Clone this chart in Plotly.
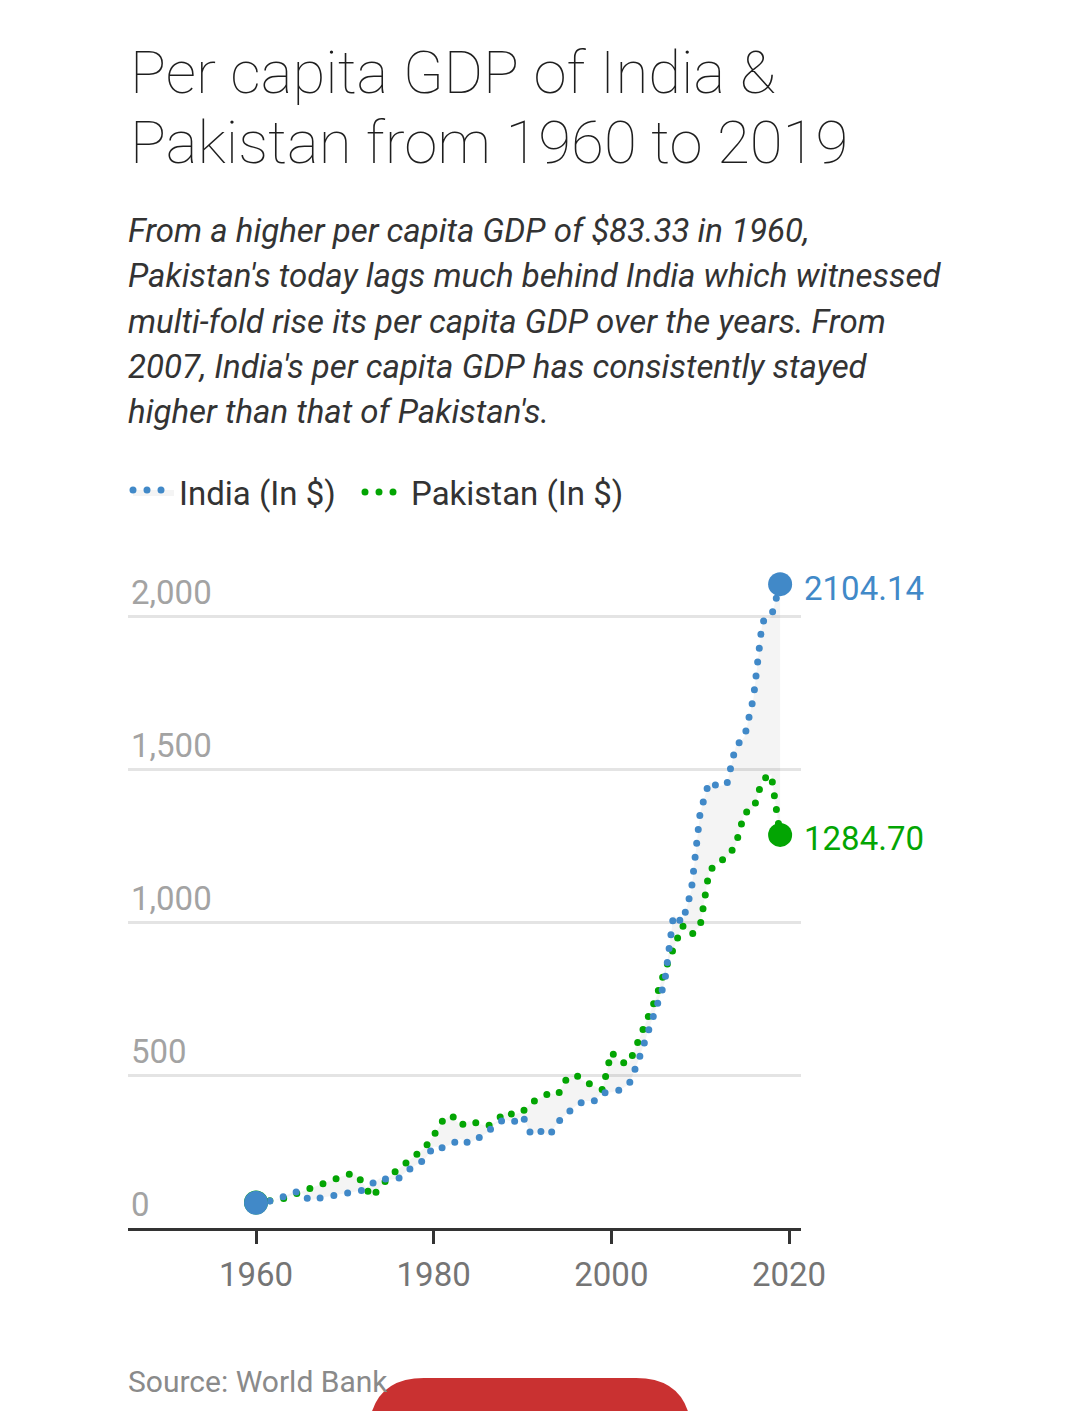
import plotly.graph_objects as go

# ---------------- data ----------------
years = list(range(1960, 2020))

india = [82.2, 85.4, 89.9, 101.1, 115.5, 119.3, 90.0, 96.6, 99.5, 107.6,
         112.4, 118.6, 123.0, 143.8, 163.2, 158.0, 161.1, 186.4, 205.7, 224.0,
         266.6, 262.0, 274.1, 291.2, 276.7, 296.4, 310.5, 340.4, 354.2, 346.1,
         367.6, 303.1, 316.9, 301.2, 346.2, 373.8, 399.6, 415.5, 413.3, 441.9,
         443.3, 451.6, 470.0, 543.2, 624.1, 710.5, 802.0, 1022.6, 998.5, 1102.0,
         1357.6, 1458.1, 1443.9, 1449.6, 1573.9, 1605.6, 1732.6, 1981.3, 1996.9, 2104.14]

pakistan = [83.33, 87.0, 92.0, 95.0, 106.0, 117.0, 132.0, 145.0, 152.0, 165.0,
            172.0, 180.0, 150.0, 100.0, 135.0, 168.0, 192.0, 214.0, 240.0, 262.0,
            302.0, 350.0, 370.0, 335.0, 350.0, 340.0, 333.0, 346.0, 380.0, 370.0,
            380.0, 410.0, 428.0, 440.0, 436.0, 490.0, 500.0, 478.0, 465.0, 452.0,
            575.0, 542.0, 538.0, 605.0, 675.0, 750.0, 840.0, 912.0, 988.0, 958.0,
            987.0, 1164.0, 1198.0, 1209.0, 1252.0, 1357.0, 1368.0, 1465.0, 1482.0, 1284.70]

series_names = ["India (In $)", "Pakistan (In $)"]
x_ticks = [1960, 1980, 2000, 2020]
y_ticks = [0, 500, 1000, 1500, 2000]

title_lines = ["Per capita GDP of India &", "Pakistan from 1960 to 2019"]
subtitle_lines = [
    "From a higher per capita GDP of $83.33 in 1960,",
    "Pakistan's today lags much behind India which witnessed",
    "multi-fold rise its per capita GDP over the years. From",
    "2007, India's per capita GDP has consistently stayed",
    "higher than that of Pakistan's.",
]
source_text = "Source: World Bank"

# ---------------- style ----------------
BLUE = "#4189c8"
GREEN = "#03a503"
FONT = "Roboto"
W, H = 1080, 1411
ML, MR, MT, MB = 128, 279, 560, 183
PW = W - ML - MR
PH = H - MT - MB


def px2x(px):
    return (px - ML) / PW


def py2y(py):
    return (H - MB - py) / PH


DOT = "0px,14px"
LW = 7

fig = go.Figure()

fig.add_trace(go.Scatter(
    x=years, y=pakistan, mode="lines", name=series_names[1],
    line=dict(color=GREEN, width=LW, dash=DOT), legend="legend2",
    cliponaxis=False))
fig.add_trace(go.Scatter(
    x=years, y=india, mode="lines", name=series_names[0],
    line=dict(color=BLUE, width=LW, dash=DOT), legend="legend",
    fill="tonexty", fillcolor="rgba(0,0,0,0.045)", cliponaxis=False))

# end markers
fig.add_trace(go.Scatter(
    x=[years[0], years[-1]], y=[pakistan[0], pakistan[-1]], mode="markers",
    marker=dict(color=GREEN, size=24), showlegend=False, cliponaxis=False))
fig.add_trace(go.Scatter(
    x=[years[0], years[-1]], y=[india[0], india[-1]], mode="markers",
    marker=dict(color=BLUE, size=24), showlegend=False, cliponaxis=False))

annotations = []
# end labels
annotations.append(dict(x=years[-1], y=india[-1], xref="x", yref="y",
                        text=f"{india[-1]:.2f}", showarrow=False,
                        xanchor="left", yanchor="middle", xshift=22, yshift=-4,
                        font=dict(family=FONT, size=33, color=BLUE)))
annotations.append(dict(x=years[-1], y=pakistan[-1], xref="x", yref="y",
                        text=f"{pakistan[-1]:.2f}", showarrow=False,
                        xanchor="left", yanchor="middle", xshift=22, yshift=-4,
                        font=dict(family=FONT, size=33, color=GREEN)))

# title
title_baselines = [92.7, 163.0]
for t, b in zip(title_lines, title_baselines):
    annotations.append(dict(x=px2x(128), y=py2y(b - 0.342 * 60), xref="paper", yref="paper",
                            text=t, showarrow=False, xanchor="left", yanchor="middle",
                            font=dict(family=FONT, size=60, color="#1e1e1e", weight=100)))

# subtitle
sub_baselines = [241.7, 287.0, 332.5, 378.0, 423.0]
for t, b in zip(subtitle_lines, sub_baselines):
    annotations.append(dict(x=px2x(126), y=py2y(b - 0.342 * 33), xref="paper", yref="paper",
                            text=t, showarrow=False, xanchor="left", yanchor="middle",
                            font=dict(family=FONT, size=33, color="#333333", style="italic")))

# source
annotations.append(dict(x=px2x(126), y=py2y(1381), xref="paper", yref="paper",
                        text=source_text, showarrow=False, xanchor="left", yanchor="middle",
                        font=dict(family=FONT, size=30, color="#8a8a8a")))

# red button (page overlay)
def P(px, py):
    return f"{px2x(px):.5f},{py2y(py):.5f}"

btn_path = (f"M {P(368, 1440)} Q {P(368, 1378)} {P(424, 1378)} "
            f"L {P(636, 1378)} Q {P(692, 1378)} {P(692, 1440)} Z")
shapes = [dict(type="path", xref="paper", yref="paper", path=btn_path,
               fillcolor="#c93131", line=dict(width=0), layer="above")]

legend_common = dict(orientation="h", yanchor="middle", xanchor="left",
                     font=dict(family=FONT, size=33, color="#333333"),
                     itemwidth=41, bgcolor="rgba(0,0,0,0)")

fig.update_layout(
    width=W, height=H, autosize=False,
    margin=dict(l=ML, r=MR, t=MT, b=MB, pad=0),
    paper_bgcolor="white", plot_bgcolor="white",
    font=dict(family=FONT, color="#333333"),
    hovermode=False,
    showlegend=True,
    legend=dict(x=0, y=py2y(492), **legend_common),
    legend2=dict(x=px2x(360), y=py2y(492), **legend_common),
    annotations=annotations,
    shapes=shapes,
    xaxis=dict(range=[1945.59, 2021.35], tickvals=x_ticks, showgrid=False,
               showline=True, linecolor="#333333", linewidth=2.5,
               ticks="outside", ticklen=13, tickwidth=2.5, tickcolor="#333333",
               tickfont=dict(family=FONT, size=33, color="#757575"),
               ticklabelstandoff=3,
               zeroline=False, fixedrange=True),
    yaxis=dict(range=[0, PH / 0.306], tickvals=y_ticks, tickformat=",",
               showgrid=True, gridcolor="#e4e4e4", gridwidth=2.5,
               showline=False, zeroline=False, ticks="",
               ticklabelposition="inside top",
               tickfont=dict(family=FONT, size=33, color="#a3a3a3"),
               fixedrange=True),
)

post = ("document.body.style.margin='0';"
        "var s=document.createElement('style');"
        "s.innerHTML='.js-line{stroke-linecap:round !important;} body{margin:0 !important;}';"
        "document.head.appendChild(s);")

fig.write_html("out.html", post_script=post, config={"displayModeBar": False})
